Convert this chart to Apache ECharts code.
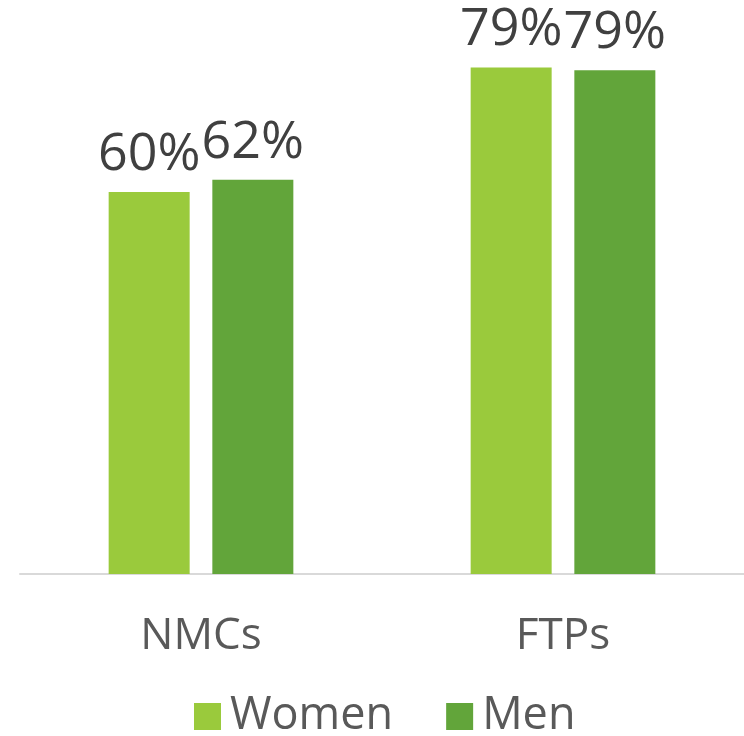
<!DOCTYPE html>
<html><head><meta charset="utf-8">
<script src="https://cdn.jsdelivr.net/npm/echarts@6/dist/echarts.min.js"></script>
<style>html,body{margin:0;padding:0;background:#fff}#c{width:744px;height:736px}</style>
</head><body><div id="c"></div>
<script>
const categories = ['NMCs', 'FTPs'];
const women = [59.9, 79.4];
const men = [61.8, 79.0];
const seriesNames = ['Women', 'Men'];

const font = 'Open Sans';
const chart = echarts.init(document.getElementById('c'));
const lbl = {
  show: true, position: 'top', distance: 11,
  formatter: p => Math.round(p.value) + '%',
  fontFamily: font, fontSize: 52, color: '#404040'
};
chart.setOption({
  animation: false,
  grid: { left: 20, right: 0, top: 0, bottom: 162 },
  legend: {
    bottom: -8, left: 189, itemWidth: 27, itemHeight: 27, itemGap: 53,
    icon: 'rect',
    textStyle: { fontFamily: font, fontSize: 45, color: '#595959', padding: [0, 0, 0, 4] },
    data: seriesNames
  },
  xAxis: {
    type: 'category', data: categories,
    axisLine: { lineStyle: { color: '#d9d9d9', width: 2 } },
    axisTick: { show: false },
    axisLabel: { fontFamily: font, fontSize: 44, color: '#595959', margin: 40 }
  },
  yAxis: { type: 'value', min: 0, max: 90, show: false, splitLine: { show: false } },
  series: [
    { name: seriesNames[0], type: 'bar', data: women, barWidth: 81, barGap: '28%',
      itemStyle: { color: '#9aca3c' }, label: lbl },
    { name: seriesNames[1], type: 'bar', data: men, barWidth: 81,
      itemStyle: { color: '#62a53a' }, label: lbl }
  ]
});
</script></body></html>
